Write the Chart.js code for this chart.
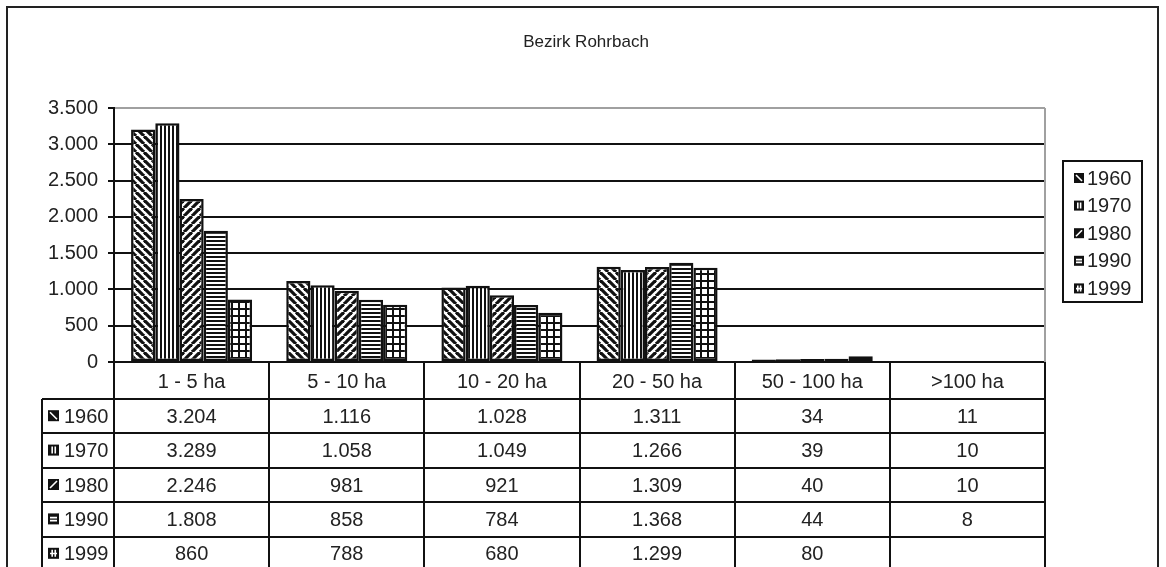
<!DOCTYPE html>
<html>
<head>
<meta charset="utf-8">
<script src="https://cdn.jsdelivr.net/npm/chart.js@4.4.1/dist/chart.umd.min.js"></script>
<style>
  html, body { margin: 0; padding: 0; background: #fff; }
  #wrap { width: 1166px; height: 567px; }
</style>
</head>
<body>
<div id="wrap"><canvas id="chart" width="1166" height="567"></canvas></div>
<script>
const title = 'Bezirk Rohrbach';
const categories = ['1 - 5 ha', '5 - 10 ha', '10 - 20 ha', '20 - 50 ha', '50 - 100 ha', '>100 ha'];
const years = ['1960', '1970', '1980', '1990', '1999'];
const v1960 = [3204, 1116, 1028, 1311, 34, 11];
const v1970 = [3289, 1058, 1049, 1266, 39, 10];
const v1980 = [2246, 981, 921, 1309, 40, 10];
const v1990 = [1808, 858, 784, 1368, 44, 8];
const v1999 = [860, 788, 680, 1299, 80, null];
const series = [v1960, v1970, v1980, v1990, v1999];
const yMax = 3500;
const yStep = 500;

const INK = '#111';
const FONT = 'Arial, "Liberation Sans", sans-serif';

// number format like 3.204
function fmt(v) {
  if (v === null || v === undefined) return '';
  return String(v).replace(/\B(?=(\d{3})+(?!\d))/g, '.');
}

// hatch patterns, one per year
function makePattern(kind) {
  const s = kind === 'grid' ? 7 : (kind === 'v' || kind === 'h') ? 4 : 8;
  const c = document.createElement('canvas');
  c.width = s; c.height = s;
  const g = c.getContext('2d');
  g.fillStyle = '#fff';
  g.fillRect(0, 0, s, s);
  g.fillStyle = INK;
  g.strokeStyle = INK;
  if (kind === 'v') g.fillRect(0, 0, 2, s);
  if (kind === 'h') g.fillRect(0, 0, s, 2);
  if (kind === 'grid') { g.fillRect(0, 0, 2, s); g.fillRect(0, 0, s, 2); }
  if (kind === 'bs' || kind === 'fs') {
    g.lineWidth = 3.2;
    for (let k = -1; k <= 1; k++) {
      g.beginPath();
      if (kind === 'bs') { g.moveTo(k * s, 0); g.lineTo(k * s + s, s); }
      else { g.moveTo(k * s, s); g.lineTo(k * s + s, 0); }
      g.stroke();
    }
  }
  return g.createPattern(c, 'repeat');
}
const kinds = ['bs', 'v', 'fs', 'h', 'grid'];
const patterns = kinds.map(makePattern);

// little legend icon: black square with white strokes
function drawIcon(ctx, kind, x, y, size) {
  ctx.save();
  ctx.fillStyle = INK;
  ctx.fillRect(x, y, size, size);
  ctx.strokeStyle = '#fff';
  ctx.lineWidth = 1.6;
  ctx.beginPath();
  const a = 2, b = size - 2;
  if (kind === 'bs') { ctx.moveTo(x + a, y + a); ctx.lineTo(x + b, y + b); }
  if (kind === 'fs') { ctx.moveTo(x + a, y + b); ctx.lineTo(x + b, y + a); }
  if (kind === 'v') {
    ctx.moveTo(x + size * 0.38, y + a); ctx.lineTo(x + size * 0.38, y + b);
    ctx.moveTo(x + size * 0.66, y + a); ctx.lineTo(x + size * 0.66, y + b);
  }
  if (kind === 'h') {
    ctx.moveTo(x + a, y + size * 0.38); ctx.lineTo(x + b, y + size * 0.38);
    ctx.moveTo(x + a, y + size * 0.66); ctx.lineTo(x + b, y + size * 0.66);
  }
  if (kind === 'grid') {
    ctx.moveTo(x + size * 0.38, y + a); ctx.lineTo(x + size * 0.38, y + b);
    ctx.moveTo(x + size * 0.66, y + a); ctx.lineTo(x + size * 0.66, y + b);
    ctx.moveTo(x + a, y + size * 0.52); ctx.lineTo(x + b, y + size * 0.52);
  }
  ctx.stroke();
  ctx.restore();
}

function line(ctx, x1, y1, x2, y2) {
  ctx.beginPath();
  ctx.moveTo(x1, y1);
  ctx.lineTo(x2, y2);
  ctx.stroke();
}

// frame, title, legend and the data table under the plot
const extras = {
  id: 'extras',
  afterDraw(chart) {
    const ctx = chart.ctx;
    const area = chart.chartArea;
    const xs = chart.scales.x;
    ctx.save();

    // outer frame
    ctx.strokeStyle = '#222';
    ctx.lineWidth = 2;
    ctx.strokeRect(7, 7, 1151, 620);

    // title
    ctx.fillStyle = '#222';
    ctx.font = '17px ' + FONT;
    ctx.textAlign = 'center';
    ctx.textBaseline = 'middle';
    ctx.fillText(title, 586, 42);

    // plot area right edge (grey)
    ctx.strokeStyle = '#a0a0a0';
    line(ctx, area.right, area.top, area.right, area.bottom);

    // legend
    ctx.strokeStyle = INK;
    ctx.strokeRect(1063, 161, 79, 141);
    ctx.font = '20px ' + FONT;
    ctx.textAlign = 'left';
    ctx.fillStyle = '#222';
    years.forEach((yr, i) => {
      const cy = 178 + i * 27.6;
      drawIcon(ctx, kinds[i], 1074, cy - 5, 10);
      ctx.fillText(yr, 1087, cy + 1);
    });

    // data table
    const half = (xs.getPixelForValue(1) - xs.getPixelForValue(0)) / 2;
    const headTop = area.bottom;
    const headBot = headTop + 37;
    const rowH = 34.4;
    const labelLeft = 42;
    ctx.strokeStyle = INK;
    ctx.lineWidth = 2;
    for (let r = 0; r <= years.length; r++) {
      const y = Math.round(headBot + r * rowH);
      line(ctx, labelLeft, y, area.right, y);
    }
    line(ctx, labelLeft, headBot, labelLeft, 600);
    categories.forEach((cat, i) => {
      const xl = Math.round(xs.getPixelForValue(i) - half);
      line(ctx, xl, headTop, xl, 600);
    });
    line(ctx, area.right, headTop, area.right, 600);

    ctx.fillStyle = '#222';
    ctx.font = '20px ' + FONT;
    ctx.textAlign = 'center';
    categories.forEach((cat, i) => {
      ctx.fillText(cat, xs.getPixelForValue(i), headTop + 20);
    });
    series.forEach((vals, r) => {
      const cy = headBot + r * rowH + rowH / 2 + 1;
      vals.forEach((v, i) => {
        ctx.fillText(fmt(v), xs.getPixelForValue(i), cy);
      });
    });
    ctx.textAlign = 'left';
    years.forEach((yr, r) => {
      const cy = headBot + r * rowH + rowH / 2;
      drawIcon(ctx, kinds[r], 48, cy - 6, 11);
      ctx.fillText(yr, 64, cy + 1);
    });

    ctx.restore();
  }
};

new Chart(document.getElementById('chart').getContext('2d'), {
  type: 'bar',
  data: {
    labels: categories,
    datasets: years.map((yr, i) => ({
      label: yr,
      data: series[i],
      backgroundColor: patterns[i],
      borderColor: INK,
      borderWidth: 2.5,
      borderSkipped: false,
      categoryPercentage: 0.78,
      barPercentage: 1
    }))
  },
  options: {
    responsive: false,
    devicePixelRatio: 1,
    animation: false,
    layout: { padding: { left: 0, right: 121, top: 108, bottom: 205 } },
    plugins: {
      legend: { display: false },
      tooltip: { enabled: false },
      title: { display: false }
    },
    scales: {
      x: {
        ticks: { display: false },
        grid: { display: false, drawTicks: false },
        border: { display: true, color: INK, width: 2 },
        afterFit(scale) { scale.height = 0; }
      },
      y: {
        min: 0,
        max: yMax,
        ticks: {
          stepSize: yStep,
          padding: 10,
          color: '#222',
          font: { family: FONT, size: 20 },
          callback: (v) => fmt(v)
        },
        grid: {
          color: (c) => (c.tick && c.tick.value === yMax ? '#a0a0a0' : INK),
          lineWidth: 2,
          tickLength: 6,
          tickColor: INK
        },
        border: { display: true, color: INK, width: 2 },
        afterFit(scale) { scale.width = 114; }
      }
    }
  },
  plugins: [extras]
});
</script>
</body>
</html>
